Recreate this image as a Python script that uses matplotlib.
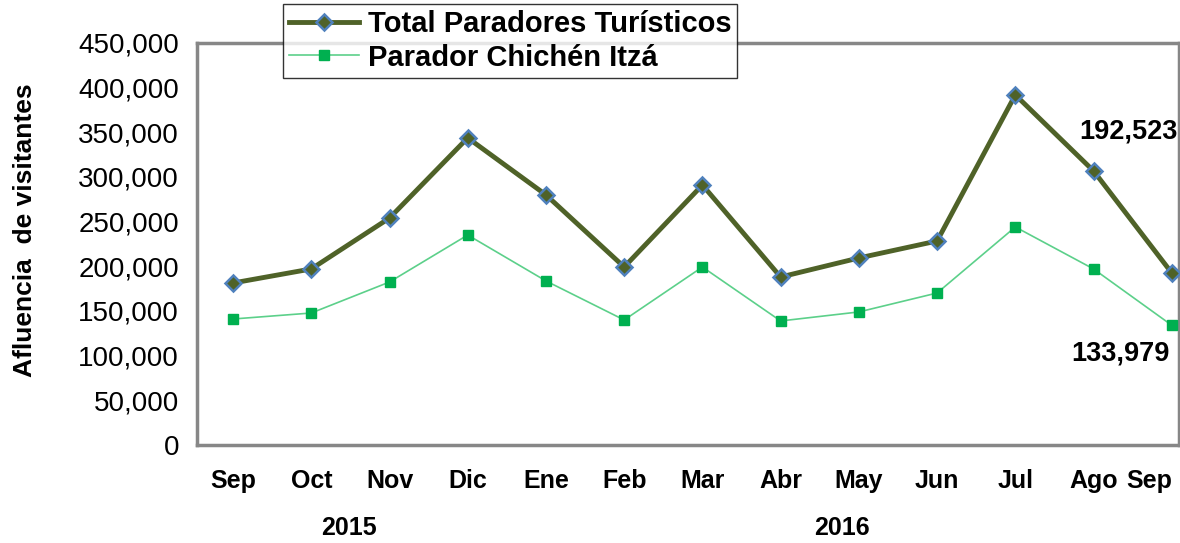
import matplotlib.pyplot as plt
from matplotlib.ticker import FuncFormatter

meses = ["Sep", "Oct", "Nov", "Dic", "Ene", "Feb", "Mar", "Abr", "May", "Jun", "Jul", "Ago", "Sep"]
anios = ["2015", "2016"]
total = [181300, 197000, 254000, 343700, 279900, 199200, 291000, 188000, 209300, 228300, 391800, 306700, 192523]
chichen = [141000, 147700, 182400, 235000, 183600, 139900, 199200, 138800, 148900, 170100, 244000, 197000, 133979]
yticks = list(range(0, 450001, 50000))

plt.rcParams['font.family'] = ['Liberation Sans', 'DejaVu Sans']

fig = plt.figure(figsize=(11.8, 5.43), dpi=100)
ax = fig.add_axes([0.167, 0.1805, 0.832, 0.7405])

x = list(range(len(meses)))
ax.plot(x, total, color="#4F6228", lw=3.5, marker="D", ms=8,
        mfc="#4F6228", mec="#4F81BD", mew=1.8, label="Total Paradores Turísticos", zorder=3)
ax.plot(x, chichen, color="#5CD08A", lw=1.2, marker="s", ms=7,
        mfc="#00B050", mec="#00B050", label="Parador Chichén Itzá", zorder=3)

ax.set_xlim(-0.46, 12.09)
ax.set_ylim(0, 450000)
ax.set_yticks(yticks)
ax.yaxis.set_major_formatter(FuncFormatter(lambda v, p: f"{int(v):,}"))
ax.set_xticks(x)
ax.set_xticklabels(meses, fontweight="bold", fontsize=18)
ax.get_xticklabels()[-1].set_horizontalalignment("right")
ax.tick_params(axis="both", length=0)
ax.tick_params(axis="y", labelsize=20, pad=13)
ax.tick_params(axis="x", pad=17)

for s in ax.spines.values():
    s.set_color("#878787")
    s.set_linewidth(2.5)

ax.set_ylabel("Afluencia  de visitantes", fontsize=19, fontweight="bold")
ax.yaxis.set_label_coords(-0.163, 0.535)

# años debajo de los meses
fig.text(349 / 1180, 1 - 528 / 543, anios[0], ha="center", va="center", fontsize=18, fontweight="bold")
fig.text(842 / 1180, 1 - 528 / 543, anios[1], ha="center", va="center", fontsize=18, fontweight="bold")

ax.annotate(f"{total[-1]:,}", xy=(x[-1], total[-1]), xytext=(-31, 102), textcoords="offset points",
            ha="center", va="center", fontsize=19.5, fontweight="bold")
ax.annotate(f"{chichen[-1]:,}", xy=(x[-1], chichen[-1]), xytext=(-37, -20), textcoords="offset points",
            ha="center", va="center", fontsize=19.5, fontweight="bold")

leg = ax.legend(loc="upper left", bbox_to_anchor=(283 / 1180, 1 - 4 / 543), bbox_transform=fig.transFigure,
                prop={"weight": "bold", "size": 21}, frameon=True, fancybox=False, borderaxespad=0,
                handlelength=2.4, handletextpad=0.3, borderpad=0.2, labelspacing=0.2)
leg.get_frame().set_edgecolor("black")
leg.get_frame().set_linewidth(1)
leg.set_zorder(5)

fig.savefig("out.png", dpi=100)
